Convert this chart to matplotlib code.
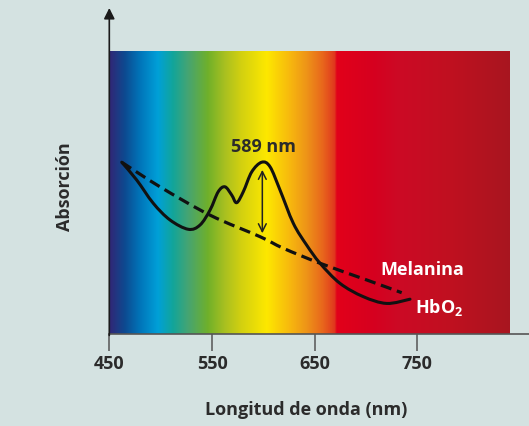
import numpy as np
import matplotlib.pyplot as plt
from matplotlib.colors import LinearSegmentedColormap
from matplotlib.path import Path
from matplotlib.patches import PathPatch

# curva HbO2 (nm, absorción relativa)
hbo2_nm = [462.1, 476.7, 492.8, 509.1, 526.9, 538.3, 548.1, 556.1, 562.7, 569.2, 574.0,
           580.5, 588.7, 598.4, 606.5, 616.2, 629.2, 642.2, 655.2, 674.6, 697.3, 720.1, 742.8]
hbo2_abs = [60.7, 54.4, 46.2, 40.3, 37.0, 38.5, 43.8, 50.3, 52.0, 49.1, 46.4,
            50.3, 57.3, 60.7, 59.1, 50.9, 39.1, 31.4, 25.0, 17.9, 13.2, 10.8, 12.3]

# curva melanina
mel_nm = [462.1, 499.4, 548.1, 596.7, 619.4, 655.2, 700.6, 734.7]
mel_abs = [60.7, 52.0, 42.0, 34.4, 30.3, 25.0, 19.1, 14.6]

# espectro de fondo
spec_nm = [450, 451.7, 465, 480.9, 497.4, 512, 526.6, 546.1, 562.4, 578.2, 603.3,
           626, 642.2, 658.1, 669.8, 671.5, 706.8, 733, 782, 840]
spec_col = ['#2e2a78', '#2e2a78', '#0d4a90', '#0077bb', '#00a0d8', '#12a59a', '#45a473',
            '#70b02a', '#a8c020', '#d2d010', '#fde800', '#f7b80e', '#ee9418', '#e8661c',
            '#e0361e', '#e2001a', '#d6001f', '#cc0a25', '#c01020', '#a8161f']

xticks = [450, 550, 650, 750]
peak_nm = 599
peak_label = '589 nm'

bg = '#d4e2e1'
txt = '#2b2b2b'
plt.rcParams['font.family'] = ['Open Sans', 'DejaVu Sans']


def smooth_path(xs, ys):
    # curva suave (Catmull-Rom -> Bezier) que pasa por los puntos leidos
    p = np.column_stack([xs, ys]).astype(float)
    verts = [p[0]]
    codes = [Path.MOVETO]
    n = len(p)
    for i in range(n - 1):
        p0 = p[i - 1] if i > 0 else p[i]
        p3 = p[i + 2] if i + 2 < n else p[i + 1]
        c1 = p[i] + (p[i + 1] - p0) / 6
        c2 = p[i + 1] - (p3 - p[i]) / 6
        verts += [c1, c2, p[i + 1]]
        codes += [Path.CURVE4] * 3
    return Path(verts, codes)


fig = plt.figure(figsize=(5.29, 4.26), dpi=100, facecolor=bg)
ax = fig.add_axes([109.3 / 529, 92 / 426, 419.7 / 529, 334 / 426])
ax.set_facecolor(bg)
x_max = 450 + 419.7 / 1.027
ax.set_xlim(450, x_max)
ax.set_ylim(0, 334 / 2.83)

lo, hi = spec_nm[0], spec_nm[-1]
pos = [(w - lo) / (hi - lo) for w in spec_nm]
cmap = LinearSegmentedColormap.from_list('spec', list(zip(pos, spec_col)), N=1024)
grad = np.linspace(0, 1, 1200).reshape(1, -1)
ax.imshow(grad, cmap=cmap, aspect='auto', extent=[lo, hi, 0, 100], zorder=1,
          interpolation='bilinear')

ax.add_patch(PathPatch(smooth_path(hbo2_nm, hbo2_abs), fill=False, ec='#111111',
                       lw=2.2, capstyle='round', joinstyle='round', zorder=3))
ax.add_patch(PathPatch(smooth_path(mel_nm, mel_abs), fill=False, ec='#111111',
                       lw=2.3, linestyle=(0, (3.5, 1.8)), zorder=3))

# flecha doble en el pico
ax.annotate('', xy=(peak_nm, 35.6), xytext=(peak_nm, 58.0),
            arrowprops=dict(arrowstyle='<->', color='#222222', lw=1.1,
                            mutation_scale=14, shrinkA=0, shrinkB=0), zorder=4)
ax.text(600, 66.2, peak_label, ha='center', va='center', fontsize=13,
        fontweight='bold', color=txt, zorder=4)

ax.text(450 + (380.7 - 109.3) / 1.027, (334 - 270) / 2.83, 'Melanina', ha='left',
        va='center', fontsize=13, fontweight='bold', color='white', zorder=4)
ax.text(450 + (415 - 109.3) / 1.027, (334 - 307) / 2.83, r'HbO$_\mathregular{2}$', ha='left',
        va='center', fontsize=13, fontweight='bold', color='white', zorder=4)

# ejes
for s in ax.spines.values():
    s.set_visible(False)
ax.axhline(0, color='#555555', lw=1.2, zorder=5, clip_on=False)
ax.annotate('', xy=(450, (334 - 8) / 2.83), xytext=(450, -0.5),
            arrowprops=dict(arrowstyle='-|>', color='#1a1a1a', lw=1.2,
                            mutation_scale=16, shrinkA=0, shrinkB=0),
            annotation_clip=False, zorder=5)

ax.set_xticks(xticks)
ax.set_xticklabels([str(t) for t in xticks], fontsize=13, fontweight='bold', color=txt)
ax.tick_params(axis='x', length=12.2, width=1.1, color='#555555', pad=3)
ax.set_yticks([])
ax.set_xlabel('Longitud de onda (nm)', fontsize=13, fontweight='bold', color=txt)
ax.set_ylabel('Absorción', fontsize=13, fontweight='bold', color=txt)
ax.xaxis.set_label_coords((306.5 - 109.3) / 419.7, (334 - 401) / 334)
ax.yaxis.set_label_coords((74 - 109.3) / 419.7, (334 - 186.7) / 334)

fig.savefig('out.png', dpi=100, facecolor=bg)
